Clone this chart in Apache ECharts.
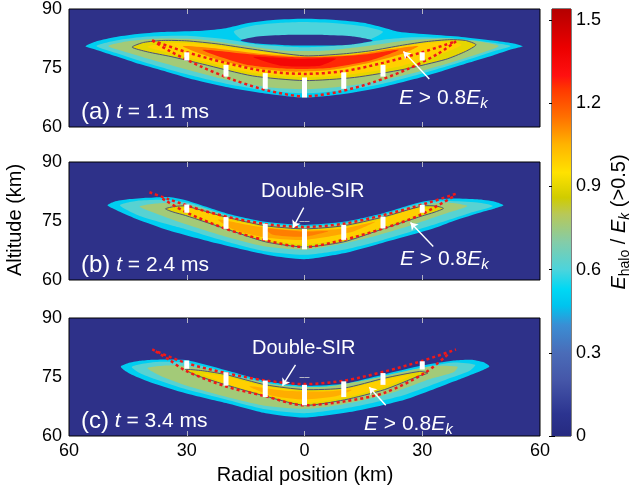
<!DOCTYPE html>
<html>
<head>
<meta charset="UTF-8">
<title>Halo field</title>
<script src="https://cdn.jsdelivr.net/npm/echarts@6/dist/echarts.min.js"></script>
<style>html,body{margin:0;background:#fff}#main{width:635px;height:493px}</style>
</head>
<body>
<div id="main"></div>
<script>
var FONT = 'Liberation Sans, Arial, Helvetica, sans-serif';
var NAVY = '#2e3189';

// colour scale
var cmapStops = [0, 0.08, 0.2, 0.3, 0.4, 0.47, 0.53, 0.6, 0.7, 0.8, 0.86, 0.95, 1.05, 1.15, 1.25, 1.3, 1.4, 1.54];
var cmapColors = ['#262a80', '#2c3490', '#4556a8', '#4a6cb8', '#3a8ed4', '#00c4ee', '#00d8f4', '#4cd4dc', '#84cca8',
  '#b8c858', '#d0cc00', '#ffe200', '#ffb400', '#ff7000', '#ff3800', '#ff1010', '#ec0000', '#b40000'];
var cbTicks = [0, 0.3, 0.6, 0.9, 1.2, 1.5];

var panelLabels = ['(a)', '(b)', '(c)'];
var panelTimes = ['1.1', '2.4', '3.4'];

// ---- panel (a): contour polygons [radial km, altitude km]
var aOuter = [[-55.8,80.5],[-53,81.8],[-48,82.9],[-42,83.7],[-35,84.2],[-26,84.5],[-20,85.1],[-15,86.3],[-8,87.2],[0,87.5],[8,87.2],[15,86.5],[20,85.3],[24,84.2],[32,83.5],[40,82.9],[48,82],[53,81.3],[55.6,80.5],[53,79.8],[48,78.2],[42,76.4],[35,74.2],[28,72.2],[20,70.2],[10,68.4],[0,67.5],[-9,68.4],[-20,70.2],[-28,72],[-35,74],[-42,76],[-48,78],[-53,79.6]];
var aLobe = [[-18,84.3],[-13,85.8],[-6,86.5],[0,86.7],[8,86.4],[15,85.6],[20,84.2],[17,82.4],[8,81.2],[0,81],[-8,81.2],[-16,82.3]];
var aL06 = [[-53,80.6],[-48,82],[-40,83],[-30,83.2],[-20,82.3],[-12,81],[0,80.3],[12,81],[20,82.2],[28,82.8],[38,82.5],[46,81.7],[52.5,80.6],[48,79.2],[40,76.6],[30,73.6],[20,71],[10,69.3],[0,68.6],[-10,69.3],[-20,71],[-30,73.4],[-40,76.2],[-48,78.8]];
var aL07 = [[-50,80.6],[-45,81.8],[-37,82.5],[-27,82.3],[-16,80.8],[-5,79.4],[5,79.4],[16,80.6],[26,82],[36,82.5],[44,81.8],[49.5,80.6],[45,78.8],[37,76.3],[28,73.8],[18,71.5],[8,70.1],[0,69.6],[-10,70.2],[-20,72],[-30,74.6],[-40,77.4],[-46,79.2]];
var aL08 = [[-43.9,80.3],[-41,81.5],[-36,82],[-30,81.9],[-22,81.1],[-13.3,79.8],[0,78.1],[10,78.6],[17,79.4],[25,80.8],[31,81.7],[37,82.2],[41,82],[43.7,80.9],[41,79.2],[36,77.2],[25.5,74.7],[12.7,72.6],[0,71.8],[-13.3,73],[-26,76],[-34,77.9],[-40,79.1]];
var aL095 = [[-40,80.4],[-34,81.4],[-25,81],[-13,79.4],[0,77.8],[12,78.4],[25,80.6],[35,81.6],[40,80.9],[35,78.6],[25,75.6],[12,73.4],[0,72.6],[-13,73.7],[-25,76.5],[-35,79]];
var aL11 = [[-31,80.5],[-22,79.9],[-12,78.7],[0,77.9],[12,78.3],[22,79.8],[29,80.6],[25,78.6],[16,76.2],[6,74.4],[-4,74.1],[-14,75.2],[-23,77.4]];
var aL125 = [[-26,79.6],[-14,78.5],[-4,77.8],[6,77.8],[16,78.5],[24,79.6],[17,77],[6,75],[-4,74.8],[-15,75.9]];
var aL14 = [[-13,77.8],[-2,77.3],[8,77.4],[4,75.6],[-6,75.6]];
var aHole = [[-16.3,82],[-12,83],[-5,83.4],[5,83.4],[12,83.1],[17.4,82],[12,81],[5,80.7],[-5,80.8],[-12,81.2]];
var aShapes = [aOuter, aLobe, aL06, aL07, aL08, aL095, aL11, aL125, aL14, aHole];
var aLevels = [0.5, 0.6, 0.62, 0.76, 0.9, 0.99, 1.12, 1.27, 1.36, -1];

// ---- panel (b)
var bOuter = [[-50.2,79],[-48.5,79.9],[-45,80.5],[-40,80.9],[-34.5,81.1],[-30,80.2],[-20,77],[-10,74.8],[0,74],[10,74.8],[20,77],[30,79.9],[37,80.7],[44,80.5],[48.5,79.9],[50.7,79],[48.5,78.2],[45.6,77.4],[38,75],[32.8,73.1],[20,69.5],[10,66.8],[0,65.3],[-9,66.3],[-21.8,69.2],[-34.5,72.6],[-43,75.6],[-48,77.8]];
var bL06 = [[-47,79],[-42,80.2],[-35,80.4],[-29,79.5],[-20,76.6],[-10,74.4],[0,73.6],[10,74.4],[20,76.6],[29,79.4],[36,80.1],[44,79.7],[48,78.8],[42,77],[32,73.8],[20,70.2],[10,67.7],[0,66.4],[-10,67.3],[-20,69.8],[-32,73.4],[-42,76.3]];
var bL07 = [[-42,78.7],[-36,79.6],[-29,79],[-20,76.3],[-10,74.2],[0,73.4],[10,74.2],[20,76.3],[28,78.7],[36,79.7],[41.5,78.8],[36,76.9],[28,74.2],[18,71.2],[8,68.9],[0,67.7],[-10,68.5],[-20,71],[-30,74.1],[-38,77]];
var bL08 = [[-35.4,78.1],[-33,78.7],[-30.3,78.8],[-20,76],[-10,73.8],[0,73],[10,73.8],[20,76],[30,78.8],[33.5,78.8],[35.4,78.2],[33,77.2],[30,76.3],[20,73],[10,69.7],[0,68.4],[-9.9,69.7],[-20,73],[-30.3,76.4],[-33.5,77.3]];
var bL095 = [[-32,78],[-28,78.3],[-20,75.6],[-10,73.5],[0,72.7],[10,73.5],[20,75.6],[28,78.1],[32,77.9],[28,76.3],[20,73.6],[10,70.4],[0,69.1],[-10,70.3],[-20,73.4],[-28,76.4]];
var bL105 = [[-22,75.4],[-12,73.6],[0,72.6],[10,73.1],[18,74.8],[12,72.2],[0,70.2],[-10,70.8],[-18,72.8]];
var bL112 = [[-10,73.1],[0,72.3],[6,72.4],[0,71],[-8,71.5]];
var bShapes = [bOuter, bL06, bL07, bL08, bL095, bL105, bL112];
var bLevels = [0.5, 0.62, 0.76, 0.9, 0.99, 1.07, 1.13];

// ---- panel (c)
var cOuter = [[-46.8,77.7],[-45,78.5],[-42,79.1],[-38.8,79.4],[-30.3,79.3],[-20,76.7],[-10,74],[0,72.8],[10,73.3],[20,75.6],[30,77.9],[38,79.2],[42.4,79.4],[45.5,78.8],[47.1,77.7],[45,76.6],[41,75],[38.2,73.9],[25.5,69.2],[12.7,66.3],[0,64.7],[-9.9,65.8],[-20,68.4],[-30.3,70.9],[-38.8,73.5],[-44,75.6],[-46,76.8]];
var cL06 = [[-44,77.6],[-38,78.8],[-30,78.6],[-20,76.3],[-10,73.6],[0,72.4],[10,72.9],[20,75.2],[30,77.4],[38,78.7],[43.5,78.1],[42,76.5],[36,74.3],[25,70.3],[12,67.3],[0,65.8],[-10,66.8],[-20,69.3],[-30,71.8],[-38,74.4],[-42,76]];
var cL07 = [[-40,77.3],[-33,78],[-25,77],[-15,74.5],[-5,72.7],[5,72.5],[15,74.1],[25,76.3],[33,77.8],[39,77.6],[38,76.2],[32,74.5],[22,70.9],[10,68.1],[0,66.9],[-10,67.7],[-20,70],[-30,72.8],[-36,75]];
var cL08 = [[-30.3,76.9],[-26,76.6],[-20,75.6],[-9.9,73],[0,71.8],[10.2,72.2],[20.4,74.7],[29.3,76.4],[31.4,76],[29,75.2],[20.4,71.8],[10.2,69.2],[0,67.8],[-9.9,70.1],[-20,73],[-28,75.6]];
var cL095 = [[-26,75.8],[-20,75.1],[-10,72.6],[0,71.4],[10,71.9],[20,74.2],[27,75.5],[26,74.8],[20,72.3],[10,69.7],[0,68.4],[-10,70.5],[-20,73.3]];
var cL105 = [[-14,72.6],[-5,71.5],[5,71.3],[12,71.7],[8,70.1],[0,69.3],[-8,70.2]];
var cShapes = [cOuter, cL06, cL07, cL08, cL095, cL105];
var cLevels = [0.5, 0.62, 0.76, 0.9, 0.99, 1.06];

// ---- red dotted boundaries
var dotUpA = [[-38.8,82],[-30,79],[-20,76.3],[-10,74.2],[0,73.5],[10,74.2],[20,76.3],[30,79],[38.6,81.8]];
var dotLoA = [[-38.8,82],[-34.5,79.4],[-26,75.2],[-17.6,71.8],[-9,69.2],[0,67.8],[8.5,68.9],[17.6,71.4],[26,74.6],[34,78.6],[38.6,81.8]];
var dotUpB = [[-39.5,82.3],[-34.5,80.5],[-26,77.7],[-17.6,75.6],[-9,74.1],[0,73.5],[9.9,74.3],[20.1,76.5],[31.1,79.5],[38.8,82]];
var dotLoB = [[-36.2,80.7],[-30.3,77.3],[-20,73],[-9.9,70.1],[0,68.4],[9.9,70.2],[20.1,73.1],[29.4,76.5],[37.9,81.2]];
var dotUpC = [[-38.8,82],[-30.3,78.6],[-20,76],[-9.9,74.1],[0,73.2],[10.2,74.1],[20.4,76.4],[29.7,79],[38.6,82]];
var dotLoC = [[-37.9,81.5],[-34.5,79.4],[-30.3,76.6],[-20,72.6],[-9.9,70.1],[0,67.8],[10.2,68.8],[20.4,71],[30.6,76],[36.5,80.7]];

// ---- white bars (x, top, bottom)
var barX = [-30, -20, -10, 0, 10, 20, 30];
var barTopA = [79, 75.8, 73.7, 72.6, 73.9, 75.8, 79];
var barBotA = [76.9, 72.8, 69.7, 67.5, 69.7, 72.8, 76.9];
var barTopB = [79.2, 76, 74.3, 73, 74, 76.1, 79.1];
var barBotB = [77.1, 73, 70.1, 67.8, 70.2, 73.1, 77.1];
var barTopC = [79.2, 76.2, 74.1, 73, 73.9, 76, 79];
var barBotC = [77.1, 72.8, 69.9, 67.8, 69.9, 73, 76.9];

// ---- annotation arrows [tail, head]
var arrowsA = [[[31.8, 72.2], [25.2, 79.2]]];
var arrowsB = [[[-0.2, 78.4], [-2.9, 73.3]], [[32.8, 68.5], [27, 74.6]]];
var arrowsC = [[[-2.3, 78.1], [-5.6, 72.8]], [[20.7, 67.8], [16.5, 72.4]]];

function hex2rgb(h) {
  return [parseInt(h.substr(1, 2), 16), parseInt(h.substr(3, 2), 16), parseInt(h.substr(5, 2), 16)];
}
function cmap(v) {
  if (v < 0) return NAVY;
  for (var i = 1; i < cmapStops.length; i++) {
    if (v <= cmapStops[i]) {
      var t = (v - cmapStops[i - 1]) / (cmapStops[i] - cmapStops[i - 1]);
      var c0 = hex2rgb(cmapColors[i - 1]), c1 = hex2rgb(cmapColors[i]);
      return 'rgb(' + c0.map(function (c, k) { return Math.round(c + (c1[k] - c) * t); }).join(',') + ')';
    }
  }
  return cmapColors[cmapColors.length - 1];
}

var tops = [9, 162, 318];
var grids = [], xAxes = [], yAxes = [], series = [];

var panelShapes = [aShapes, bShapes, cShapes];
var panelLevels = [aLevels, bLevels, cLevels];
var contourIdx = [4, 3, 3];
var dots = [[dotUpA, dotLoA], [dotUpB, dotLoB], [dotUpC, dotLoC]];
var barTops = [barTopA, barTopB, barTopC];
var barBots = [barBotA, barBotB, barBotC];
var arrows = [arrowsA, arrowsB, arrowsC];

var tickStyle = { inside: true, length: 5, lineStyle: { color: '#b4b4c4', width: 1 } };

tops.forEach(function (top, gi) {
  grids.push({ left: 69, width: 471, top: top, height: 118, show: true, borderColor: '#000', borderWidth: 1, backgroundColor: NAVY });
  xAxes.push({
    gridIndex: gi, type: 'value', min: -60, max: 60, interval: 30, position: 'bottom',
    axisLine: { show: false }, splitLine: { show: false },
    axisTick: Object.assign({ customValues: [-30, 0, 30] }, tickStyle),
    axisLabel: { show: gi === 2, fontSize: 18, fontFamily: FONT, color: '#000', margin: 6,
      formatter: function (v) { return String(Math.abs(v)); } }
  });
  xAxes.push({
    gridIndex: gi, type: 'value', min: -60, max: 60, interval: 30, position: 'top',
    axisLine: { show: false }, splitLine: { show: false }, axisLabel: { show: false },
    axisTick: Object.assign({ customValues: [-30, 0, 30] }, tickStyle)
  });
  yAxes.push({
    gridIndex: gi, type: 'value', min: 60, max: 90, interval: 15, position: 'left',
    axisLine: { show: false }, splitLine: { show: false },
    axisTick: Object.assign({ customValues: [75] }, tickStyle),
    axisLabel: { fontSize: 18, fontFamily: FONT, color: '#000', margin: 7 }
  });
  yAxes.push({
    gridIndex: gi, type: 'value', min: 60, max: 90, interval: 15, position: 'right',
    axisLine: { show: false }, splitLine: { show: false }, axisLabel: { show: false },
    axisTick: Object.assign({ customValues: [75] }, tickStyle)
  });

  var shapes = panelShapes[gi], levels = panelLevels[gi];
  var xi = gi * 2, yi = gi * 2;

  // filled field levels
  series.push({
    type: 'custom', xAxisIndex: xi, yAxisIndex: yi, clip: true, silent: true, z: 2,
    data: levels.map(function (v, i) { return [i]; }),
    renderItem: function (params, api) {
      var poly = shapes[params.dataIndex];
      return {
        type: 'polygon',
        shape: { points: poly.map(function (p) { return api.coord(p); }), smooth: 0.22 },
        style: { fill: cmap(levels[params.dataIndex]) }
      };
    }
  });
  // contour line on top
  series.push({
    type: 'custom', xAxisIndex: xi, yAxisIndex: yi, clip: true, silent: true, z: 3,
    data: [[0]],
    renderItem: function (params, api) {
      var poly = shapes[contourIdx[gi]];
      return {
        type: 'polygon',
        shape: { points: poly.map(function (p) { return api.coord(p); }), smooth: 0.22 },
        style: { fill: null, stroke: '#4e5274', lineWidth: 1 }
      };
    }
  });
  // red dotted boundaries
  dots[gi].forEach(function (d) {
    series.push({
      type: 'line', xAxisIndex: xi, yAxisIndex: yi, data: d, smooth: 0.3, symbol: 'none', z: 4, silent: true,
      lineStyle: { color: '#f01818', width: 2.5, type: [3, 3] }
    });
  });
  // white bars
  series.push({
    type: 'custom', xAxisIndex: xi, yAxisIndex: yi, z: 5, silent: true,
    data: barX.map(function (x, i) { return [x, barTops[gi][i], barBots[gi][i]]; }),
    renderItem: function (params, api) {
      var p1 = api.coord([api.value(0), api.value(1)]);
      var p2 = api.coord([api.value(0), api.value(2)]);
      return { type: 'rect', shape: { x: p1[0] - 2.5, y: p1[1], width: 5, height: p2[1] - p1[1] }, style: { fill: '#fff' } };
    }
  });
  // arrows
  series.push({
    type: 'lines', coordinateSystem: 'cartesian2d', xAxisIndex: xi, yAxisIndex: yi, z: 6, silent: true,
    symbol: ['none', 'arrow'], symbolSize: 7,
    lineStyle: { color: '#fff', width: 1.4, opacity: 1 },
    data: arrows[gi].map(function (a) { return { coords: a }; })
  });
});

// colourbar
grids.push({ left: 552, width: 19, top: 9, height: 427, show: true, borderColor: '#000', borderWidth: 1 });
xAxes.push({ gridIndex: 3, type: 'value', min: 0, max: 1, show: false });
yAxes.push({
  gridIndex: 3, type: 'value', min: 0, max: 1.54, interval: 0.3, position: 'right',
  axisLine: { show: false }, splitLine: { show: false },
  axisTick: { inside: true, length: 3, customValues: cbTicks, lineStyle: { color: '#000' } },
  axisLabel: { customValues: cbTicks, fontSize: 18, fontFamily: FONT, color: '#000', margin: 5,
    formatter: function (v) { return v === 0 ? '0' : v.toFixed(1); } }
});
yAxes.push({
  gridIndex: 3, type: 'value', min: 0, max: 1.54, interval: 0.3, position: 'left',
  axisLine: { show: false }, splitLine: { show: false }, axisLabel: { show: false },
  axisTick: { inside: true, length: 3, customValues: cbTicks, lineStyle: { color: '#000' } }
});
series.push({
  type: 'custom', xAxisIndex: 6, yAxisIndex: 6, silent: true, z: 2,
  data: [[0, 0, 1, 1.54]],
  renderItem: function (params, api) {
    var p0 = api.coord([api.value(0), api.value(3)]);
    var p1 = api.coord([api.value(2), api.value(1)]);
    var stops = cmapStops.map(function (s, i) { return { offset: 1 - s / 1.54, color: cmapColors[i] }; }).reverse();
    return {
      type: 'rect', shape: { x: p0[0], y: p0[1], width: p1[0] - p0[0], height: p1[1] - p0[1] },
      style: { fill: new echarts.graphic.LinearGradient(0, 0, 0, 1, stops) }
    };
  }
});

var graphics = [];
tops.forEach(function (top, gi) {
  graphics.push({
    type: 'text', x: 81, y: top + 103, z: 10,
    style: {
      text: '{p|' + panelLabels[gi] + '} {t|t} = ' + panelTimes[gi] + ' ms',
      fill: '#fff', fontFamily: FONT, fontSize: 21, lineHeight: 26, verticalAlign: 'middle',
      rich: {
        p: { fontSize: 24, fontFamily: FONT, fill: '#fff', lineHeight: 26 },
        t: { fontSize: 21, fontFamily: FONT, fontStyle: 'italic', fill: '#fff', lineHeight: 26 }
      }
    }
  });
});
var eRich = {
  e: { fontSize: 21, fontFamily: FONT, fontStyle: 'italic', fill: '#fff', lineHeight: 26 },
  k: { fontSize: 15, fontFamily: FONT, fontStyle: 'italic', fill: '#fff', lineHeight: 14, verticalAlign: 'bottom' }
};
[[399, 98], [400, 259], [364, 424]].forEach(function (p) {
  graphics.push({
    type: 'text', x: p[0], y: p[1], z: 10,
    style: { text: '{e|E} > 0.8{e|E}{k|k}', fill: '#fff', fontFamily: FONT, fontSize: 21, lineHeight: 26,
      verticalAlign: 'middle', rich: eRich }
  });
});
[[261, 191], [252, 348]].forEach(function (p) {
  graphics.push({
    type: 'text', x: p[0], y: p[1], z: 10,
    style: { text: 'Double-SIR', fill: '#fff', fontFamily: FONT, fontSize: 20, verticalAlign: 'middle' }
  });
});
graphics.push({
  type: 'text', x: 305, y: 475,
  style: { text: 'Radial position (km)', fill: '#000', fontFamily: FONT, fontSize: 20, align: 'center', verticalAlign: 'middle' }
});
graphics.push({
  type: 'text', x: 15, y: 220, rotation: Math.PI / 2,
  style: { text: 'Altitude (km)', fill: '#000', fontFamily: FONT, fontSize: 20, align: 'center', verticalAlign: 'middle' }
});
graphics.push({
  type: 'text', x: 619, y: 222, rotation: Math.PI / 2,
  style: {
    text: '{e|E}{s|halo} / {e|E}{k|k} (>0.5)', fill: '#000', fontFamily: FONT, fontSize: 20, lineHeight: 26,
    align: 'center', verticalAlign: 'middle',
    rich: {
      e: { fontSize: 20, fontFamily: FONT, fontStyle: 'italic', fill: '#000', lineHeight: 26 },
      s: { fontSize: 14, fontFamily: FONT, fill: '#000', lineHeight: 14, verticalAlign: 'bottom' },
      k: { fontSize: 14, fontFamily: FONT, fontStyle: 'italic', fill: '#000', lineHeight: 14, verticalAlign: 'bottom' }
    }
  }
});

var chart = echarts.init(document.getElementById('main'), null, { renderer: 'canvas' });
chart.setOption({
  animation: false,
  grid: grids,
  xAxis: xAxes,
  yAxis: yAxes,
  series: series,
  graphic: graphics
});
</script>
</body>
</html>
